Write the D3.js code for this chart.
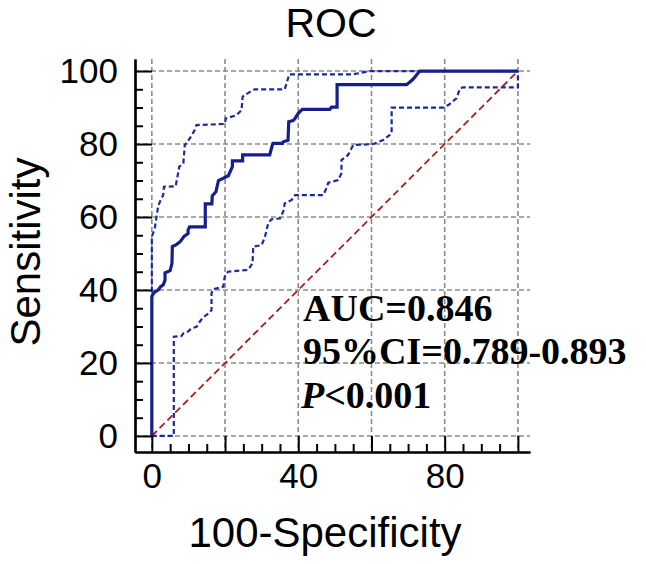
<!DOCTYPE html>
<html><head><meta charset="utf-8">
<script src="https://cdn.jsdelivr.net/npm/d3@7"></script>
<style>body{margin:0;background:#fff}svg{display:block}</style>
</head><body><svg id="c" width="646" height="564"></svg>
<script>
// ROC curve (100-Specificity, Sensitivity)
const rocFPR = [0,0,0.6,1.7,2.4,3.1,3.6,3.6,5,5.5,5.6,6.8,7.8,8.8,9.9,9.9,10.3,14.6,14.6,16.4,16.5,17.5,18.2,20.9,22,22,24.8,24.8,32.2,32.8,33.1,35.7,35.9,37.2,37.4,38.6,39.1,40,41.1,48.6,49.1,50.6,50.6,69.6,70.5,71.4,72.3,73.2,100];
const rocTPR = [0,38.2,39.3,40,40.9,41.4,42.7,44.7,45.3,47.3,51.9,52.5,53.3,54.7,55.5,56.4,57.3,57.3,63.6,63.6,65.8,66.9,70,71.3,73.8,75.4,75.4,77,77,79.3,80.2,80.2,80.6,81,86.1,86.4,87,88.4,89.5,89.5,90.1,90.1,96.3,96.3,97,97.8,98.9,100,100];
// upper 95% confidence bound
const upperFPR = [0,0,0.8,1.7,2.2,3.1,3.3,6.5,7.5,8.6,9,10.4,11.7,12.2,19.9,20.2,23.1,24.5,24.8,26.8,28.1,36.3,37.2,37.5,55,59.6,100];
const upperTPR = [0,54.6,56.9,62.8,64.2,66,68.3,68.4,73.8,74.7,79.7,81.6,83.8,85.2,85.5,87,87.9,89.3,93,94.3,95,95,98,99.1,99.1,100,100];
// lower 95% confidence bound
const lowerFPR = [0,6,6,8.1,8.6,9.9,10.8,12.2,13.1,14,15.8,16.3,16.3,16.7,19.5,19.9,20.8,26.3,27.5,27.7,30,30.9,31.8,32.7,35,35.9,36.3,38.2,39.1,46.8,47.7,48.2,50.9,51.8,51.8,53.6,55,60.5,63.2,65.5,65.5,79.6,81,83.2,84.2,85.1,100,100];
const lowerTPR = [0,0,27.2,27.4,28.1,28.6,29.5,29.9,31.3,32.5,33.8,34.5,39.1,40.2,40.9,43.6,45,45.5,47.3,51.9,52.3,54.6,58.3,59.4,59.6,61.5,63.7,64.7,66,66,67.9,69.4,70.1,72,75.6,77,79.7,80,81.1,82.9,90,90,90.7,92.5,95.3,95.5,95.5,100];
// reference diagonal
const diagFPR = [0,100];
const diagTPR = [0,100];

const majorTicks = [0,20,40,60,80,100];
const minorTicks = [5,10,15,25,30,35,45,50,55,65,70,75,85,90,95];
const xTickLabels = ["0","","40","","80",""];
const yTickLabels = ["0","20","40","60","80","100"];
const chartTitle = "ROC";
const xTitle = "100-Specificity";
const yTitle = "Sensitivity";
const statAUC = "AUC=0.846";
const statCI = "95%CI=0.789-0.893";
const statP = ["P","<0.001"];

const svg = d3.select("#c");
const sans = "'Liberation Sans', Arial, sans-serif";
const serif = "'Liberation Serif', 'Times New Roman', serif";

const x = d3.scaleLinear().domain([-4.6, 103.3]).range([135, 530]);
const y = d3.scaleLinear().domain([-4.4, 103.3]).range([452, 59]);

// grid
const grid = svg.append("g").attr("stroke","#8a8a8a").attr("stroke-width",1.6).attr("stroke-dasharray","5,3");
grid.selectAll("line.v").data(majorTicks).join("line").attr("class","v")
  .attr("x1",d=>x(d)).attr("x2",d=>x(d)).attr("y1",y.range()[1]).attr("y2",y.range()[0]);
grid.selectAll("line.h").data(majorTicks).join("line").attr("class","h")
  .attr("y1",d=>y(d)).attr("y2",d=>y(d)).attr("x1",x.range()[0]).attr("x2",x.range()[1]);

const line = d3.line().x(d=>x(d[0])).y(d=>y(d[1]));

svg.append("path").datum(d3.zip(diagFPR,diagTPR)).attr("d",line)
  .attr("fill","none").attr("stroke","#a81e1e").attr("stroke-width",1.8).attr("stroke-dasharray","7,4");

[[upperFPR,upperTPR],[lowerFPR,lowerTPR]].forEach(([a,b])=>{
  svg.append("path").datum(d3.zip(a,b)).attr("d",line)
    .attr("fill","none").attr("stroke","#1c2a9c").attr("stroke-width",2.2)
    .attr("stroke-dasharray","5,3").attr("stroke-linejoin","miter");
});

svg.append("path").datum(d3.zip(rocFPR,rocTPR)).attr("d",line)
  .attr("fill","none").attr("stroke","#16208c").attr("stroke-width",3.2).attr("stroke-linejoin","miter");

// axes
function styleAxis(g){
  g.select(".domain").attr("stroke","#000").attr("stroke-width",2.2);
  g.selectAll(".tick line").attr("stroke","#000").attr("stroke-width",2);
  g.selectAll(".tick text").attr("font-family",sans).attr("font-size",35).attr("fill","#000");
}
const gx = svg.append("g").attr("transform","translate(0,452)")
  .call(d3.axisBottom(x).tickValues(majorTicks).tickSize(-16).tickSizeOuter(0).tickPadding(11)
    .tickFormat((d,i)=>xTickLabels[i]));
styleAxis(gx);
const gxm = svg.append("g").attr("transform","translate(0,452)")
  .call(d3.axisBottom(x).tickValues(minorTicks).tickSize(-8).tickSizeOuter(0).tickFormat(""));
styleAxis(gxm);
const gy = svg.append("g").attr("transform","translate(135,0)")
  .call(d3.axisLeft(y).tickValues(majorTicks).tickSize(-17).tickSizeOuter(0).tickPadding(17)
    .tickFormat((d,i)=>yTickLabels[i]));
styleAxis(gy);
const gym = svg.append("g").attr("transform","translate(135,0)")
  .call(d3.axisLeft(y).tickValues(minorTicks).tickSize(-8).tickSizeOuter(0).tickFormat(""));
styleAxis(gym);

// titles
svg.append("text").attr("x",331).attr("y",37).attr("text-anchor","middle")
  .attr("font-family",sans).attr("font-size",41).text(chartTitle);
svg.append("text").attr("x",325).attr("y",547).attr("text-anchor","middle")
  .attr("font-family",sans).attr("font-size",42).text(xTitle);
svg.append("text").attr("transform","translate(40,252) rotate(-90)").attr("text-anchor","middle")
  .attr("font-family",sans).attr("font-size",42).text(yTitle);

// statistics
const st = svg.append("g").attr("font-family",serif).attr("font-size",38).attr("font-weight","bold").attr("fill","#000");
st.append("text").attr("x",303).attr("y",321).text(statAUC);
st.append("text").attr("x",303).attr("y",364).text(statCI);
const tp = st.append("text").attr("x",301).attr("y",408);
tp.append("tspan").attr("font-style","italic").text(statP[0]);
tp.append("tspan").text(statP[1]);
</script>
</body></html>
